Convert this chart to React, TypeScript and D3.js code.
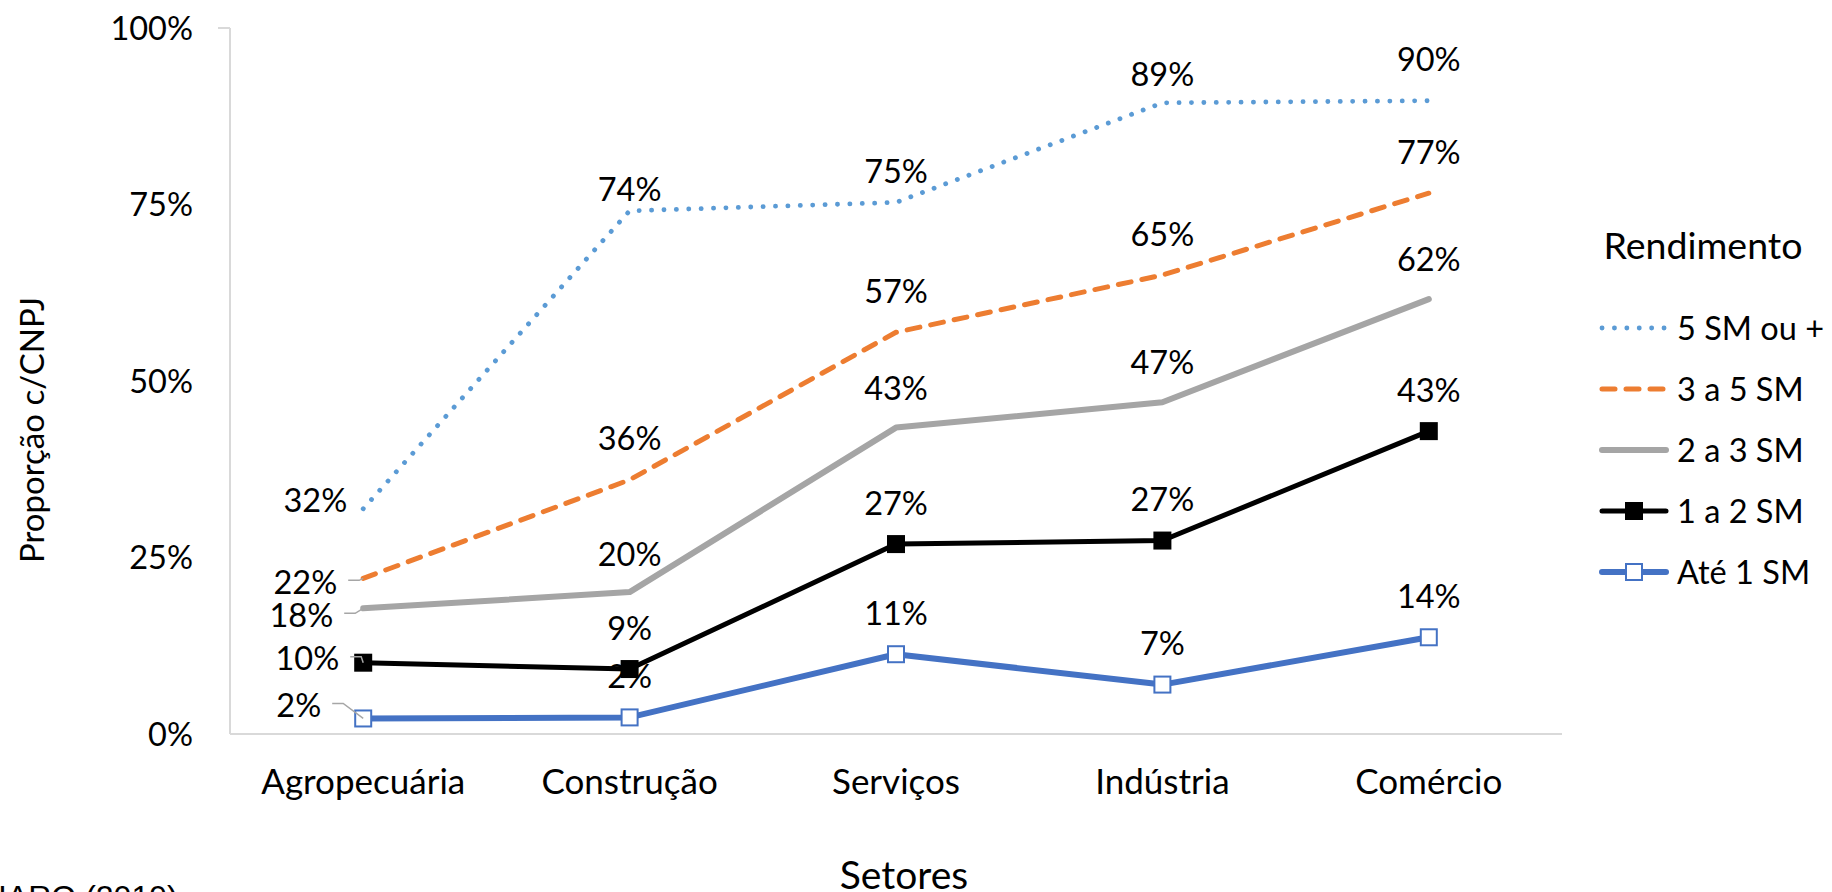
import React from 'react';
import * as d3 from 'd3';

const CATEGORIES = ['Agropecuária', 'Construção', 'Serviços', 'Indústria', 'Comércio'];
const SERIES_NAMES = ['5 SM ou +', '3 a 5 SM', '2 a 3 SM', '1 a 2 SM', 'Até 1 SM'];
const VALUES_5_MAIS = [0.319, 0.741, 0.753, 0.894, 0.897];
const VALUES_3_A_5 = [0.2205, 0.36, 0.569, 0.65, 0.766];
const VALUES_2_A_3 = [0.178, 0.201, 0.434, 0.47, 0.616];
const VALUES_1_A_2 = [0.101, 0.092, 0.269, 0.274, 0.429];
const VALUES_ATE_1 = [0.022, 0.0235, 0.113, 0.07, 0.137];
const Y_TICKS = [0, 0.25, 0.5, 0.75, 1];

const W = 1832;
const H = 892;
const M = { left: 230, right: 1562, top: 28, bottom: 734 };
const FONT = 'Lato, "Open Sans", sans-serif';

type Style = {
  color: string;
  width: number;
  dash?: string;
  cap?: 'round' | 'butt';
  marker?: 'filled' | 'open';
};

const STYLES: Style[] = [
  { color: '#5B9BD5', width: 4.8, dash: '0.1 12.3', cap: 'round' },
  { color: '#ED7D31', width: 5, dash: '13 11', cap: 'round' },
  { color: '#A5A5A5', width: 6, cap: 'round' },
  { color: '#000000', width: 5, cap: 'round', marker: 'filled' },
  { color: '#4472C4', width: 6, cap: 'round', marker: 'open' },
];

// label placement (relative to the point), default: centered above
const DEFAULT_LABEL_DY = -41;
const LABEL_DY_OVERRIDES: Record<string, number> = {
  '0|1': -21,
  '0|2': -31,
  '0|3': -28,
  '2|1': -38,
  '2|2': -39,
  '2|3': -40,
  '2|4': -40,
};
// left-side labels for first category: [dx of right edge, dy of centre, leader]
const LEFT_LABELS: Record<number, [number, number, boolean]> = {
  0: [-16, -8, false],
  1: [-26, 4, true],
  2: [-30, 7, true],
  3: [-24, -4, true],
  4: [-42, -13, true],
};

export default function App() {
  const series = [VALUES_5_MAIS, VALUES_3_A_5, VALUES_2_A_3, VALUES_1_A_2, VALUES_ATE_1];
  const x = d3.scaleBand<string>().domain(CATEGORIES).range([M.left, M.right]).padding(0);
  const cx = (c: string) => (x(c) as number) + x.bandwidth() / 2;
  const y = d3.scaleLinear().domain([0, 1]).range([M.bottom, M.top]);
  const pct = d3.format('.0%');
  const line = d3
    .line<number>()
    .x((_, i) => cx(CATEGORIES[i]))
    .y((d) => y(d));

  const drawOrder = [0, 1, 2, 3, 4];
  const legendRows = [328, 389, 450, 511, 572];
  const msz = 18;

  const marker = (s: Style, px: number, py: number, key: string) => {
    if (!s.marker) return null;
    if (s.marker === 'filled')
      return <rect key={key} x={px - msz / 2} y={py - msz / 2} width={msz} height={msz} fill={s.color} />;
    return (
      <rect
        key={key}
        x={px - msz / 2 + 1}
        y={py - msz / 2 + 1}
        width={msz - 2}
        height={msz - 2}
        fill="#fff"
        stroke={s.color}
        strokeWidth={2}
      />
    );
  };

  return (
    <svg
      width={W}
      height={H}
      style={{ position: 'absolute', left: 0, top: 0, display: 'block', background: '#fff' }}
      fontFamily={FONT}
    >
      <rect x={0} y={0} width={W} height={H} fill="#fff" />
      {/* axes */}
      <line x1={M.left} x2={M.left} y1={M.top} y2={M.bottom} stroke="#D9D9D9" strokeWidth={2} />
      <line x1={M.left - 12} x2={M.left} y1={M.top} y2={M.top} stroke="#D9D9D9" strokeWidth={2} />
      <line x1={M.left} x2={M.right} y1={M.bottom} y2={M.bottom} stroke="#D9D9D9" strokeWidth={2} />
      {Y_TICKS.map((t) => (
        <text key={t} x={193} y={y(t) + 11.5} textAnchor="end" fontSize={32.5} fill="#000">
          {pct(t)}
        </text>
      ))}
      {CATEGORIES.map((c) => (
        <text key={c} x={cx(c)} y={794} textAnchor="middle" fontSize={35} fill="#000">
          {c}
        </text>
      ))}
      <text x={904} y={889} textAnchor="middle" fontSize={39} fill="#000">
        Setores
      </text>
      <text
        transform={`translate(44,430) rotate(-90)`}
        textAnchor="middle"
        fontSize={33}
        fill="#000"
      >
        Proporção c/CNPJ
      </text>
      <text x={-2} y={908} fontSize={32} fontFamily='"Liberation Sans", Arial, sans-serif' fill="#000">
        IARQ (2019)
      </text>

      {/* lines */}
      {drawOrder.map((si) => {
        const s = STYLES[si];
        return (
          <g key={si}>
            <path
              d={line(series[si]) as string}
              fill="none"
              stroke={s.color}
              strokeWidth={s.width}
              strokeDasharray={s.dash}
              strokeLinecap={s.cap}
              strokeLinejoin="round"
            />
            {series[si].map((v, i) => marker(s, cx(CATEGORIES[i]), y(v), `m${si}-${i}`))}
          </g>
        );
      })}

      {/* data labels */}
      {series.map((vals, si) =>
        vals.map((v, i) => {
          const px = cx(CATEGORIES[i]);
          const py = y(v);
          if (i === 0) {
            const [dx, dy, leader] = LEFT_LABELS[si];
            const tx = px + dx;
            const ty = py + dy;
            return (
              <g key={`l${si}-${i}`}>
                {leader && (
                  <polyline
                    points={`${tx + 11},${ty - 2} ${tx + 22},${ty - 2} ${px},${py}`}
                    fill="none"
                    stroke="#A6A6A6"
                    strokeWidth={1.5}
                  />
                )}
                <text x={tx} y={ty + 11.5} textAnchor="end" fontSize={32.5} fill="#000">
                  {pct(v)}
                </text>
              </g>
            );
          }
          const dy = LABEL_DY_OVERRIDES[`${si}|${i}`] ?? DEFAULT_LABEL_DY;
          return (
            <text key={`l${si}-${i}`} x={px} y={py + dy + 11.5} textAnchor="middle" fontSize={32.5} fill="#000">
              {pct(v)}
            </text>
          );
        })
      )}

      {/* legend */}
      <text x={1703} y={259} textAnchor="middle" fontSize={37.5} fill="#000">
        Rendimento
      </text>
      {SERIES_NAMES.map((name, si) => {
        const s = STYLES[si];
        const ry = legendRows[si];
        return (
          <g key={name}>
            <line
              x1={1602}
              x2={1666}
              y1={ry}
              y2={ry}
              stroke={s.color}
              strokeWidth={s.width}
              strokeDasharray={s.dash}
              strokeLinecap={s.cap}
            />
            {marker(s, 1634, ry, `lm${si}`)}
            <text x={1677} y={ry + 11.5} fontSize={32.5} fill="#000">
              {name}
            </text>
          </g>
        );
      })}
    </svg>
  );
}
